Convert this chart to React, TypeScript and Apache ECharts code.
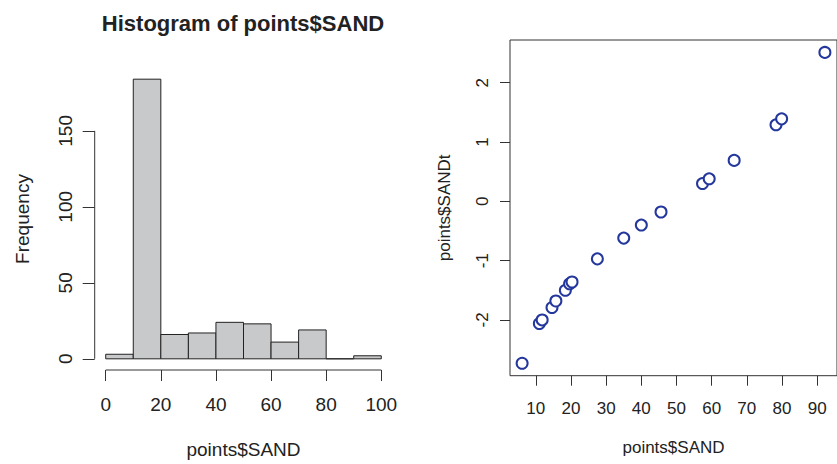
import React, { useEffect, useRef } from "react";
import * as echarts from "echarts";

// Histogram data
const binEdges = [0, 10, 20, 30, 40, 50, 60, 70, 80, 90, 100];
const binCounts = [3, 184, 16, 17, 24, 23, 11, 19, 0, 2];
const histXTicks = [0, 20, 40, 60, 80, 100];
const histYTicks = [0, 50, 100, 150];

// Scatter data
const sandX = [6.1, 11.0, 11.8, 14.6, 15.7, 18.4, 19.6, 20.3, 27.5, 35.0, 40.0, 45.6, 57.4, 59.3, 66.4, 78.3, 79.9, 92.2];
const sandT = [-2.73, -2.06, -2.0, -1.79, -1.68, -1.5, -1.39, -1.36, -0.97, -0.62, -0.4, -0.18, 0.3, 0.38, 0.69, 1.29, 1.39, 2.51];
const scatXTicks = [10, 20, 30, 40, 50, 60, 70, 80, 90];
const scatYTicks = [-2, -1, 0, 1, 2];

const FONT = "Liberation Sans, Arial, Helvetica, sans-serif";
const TXT = "#222";

export default function App() {
  const ref = useRef<HTMLDivElement>(null);
  useEffect(() => {
    if (!ref.current) return;
    const chart = echarts.init(ref.current, null, { renderer: "svg" });

    const histMax = Math.max(...binCounts);
    const hYMin = -0.04 * histMax;
    const hYMax = histMax * 1.04;
    const hXMin = binEdges[0] - 0.04 * (binEdges[binEdges.length - 1] - binEdges[0]);
    const hXMax = binEdges[binEdges.length - 1] + 0.04 * (binEdges[binEdges.length - 1] - binEdges[0]);

    const sxMinD = Math.min(...sandX), sxMaxD = Math.max(...sandX);
    const syMinD = Math.min(...sandT), syMaxD = Math.max(...sandT);
    const sXMin = sxMinD - 0.04 * (sxMaxD - sxMinD);
    const sXMax = sxMaxD + 0.04 * (sxMaxD - sxMinD);
    const sYMin = syMinD - 0.04 * (syMaxD - syMinD);
    const sYMax = syMaxD + 0.04 * (syMaxD - syMinD);

    const histData = binCounts.map((c, i) => [binEdges[i], binEdges[i + 1], c]);

    const tickStyle = { color: "#333", width: 1 };
    const hiddenLine = { show: false, onZero: false };

    chart.setOption({
      animation: false,
      textStyle: { fontFamily: FONT },
      graphic: [
        {
          type: "text",
          x: 243,
          y: 23,
          style: {
            text: "Histogram of points$SAND",
            fontFamily: FONT,
            fontWeight: "bold",
            fontSize: 22,
            fill: TXT,
            align: "center",
            verticalAlign: "middle",
          },
        },
      ],
      grid: [
        { left: 94.7, top: 68, width: 297.6, height: 307.1, show: false },
        {
          left: 510,
          top: 40,
          right: -7.6,
          bottom: 88.3,
          show: true,
          borderColor: "#333",
          borderWidth: 1,
          backgroundColor: "transparent",
        },
      ],
      xAxis: [
        {
          type: "value",
          gridIndex: 0,
          min: hXMin,
          max: hXMax,
          axisLine: hiddenLine,
          splitLine: { show: false },
          axisTick: { show: true, customValues: histXTicks, length: 11, lineStyle: tickStyle },
          axisLabel: { customValues: histXTicks, fontSize: 19, color: TXT, margin: 25, fontFamily: FONT },
          name: "points$SAND",
          nameLocation: "middle",
          nameGap: 70,
          nameTextStyle: { fontSize: 19, color: TXT, fontFamily: FONT },
        },
        {
          type: "value",
          gridIndex: 1,
          min: sXMin,
          max: sXMax,
          axisLine: hiddenLine,
          splitLine: { show: false },
          axisTick: { show: true, customValues: scatXTicks, length: 10, lineStyle: tickStyle },
          axisLabel: { customValues: scatXTicks, fontSize: 17, color: TXT, margin: 24, fontFamily: FONT },
          name: "points$SAND",
          nameLocation: "middle",
          nameGap: 63,
          nameTextStyle: { fontSize: 17, color: TXT, fontFamily: FONT },
        },
      ],
      yAxis: [
        {
          type: "value",
          gridIndex: 0,
          min: hYMin,
          max: hYMax,
          axisLine: hiddenLine,
          splitLine: { show: false },
          axisTick: { show: true, customValues: histYTicks, length: 12, lineStyle: tickStyle },
          axisLabel: { customValues: histYTicks, fontSize: 19, color: TXT, margin: 20, rotate: 90, fontFamily: FONT },
          name: "Frequency",
          nameLocation: "middle",
          nameGap: 63,
          nameTextStyle: { fontSize: 19, color: TXT, fontFamily: FONT },
        },
        {
          type: "value",
          gridIndex: 1,
          min: sYMin,
          max: sYMax,
          axisLine: hiddenLine,
          splitLine: { show: false },
          axisTick: { show: true, customValues: scatYTicks, length: 10, lineStyle: tickStyle },
          axisLabel: { customValues: scatYTicks, fontSize: 17, color: TXT, margin: 19, rotate: 90, fontFamily: FONT },
          name: "points$SANDt",
          nameLocation: "middle",
          nameGap: 57,
          nameTextStyle: { fontSize: 17, color: TXT, fontFamily: FONT },
        },
      ],
      series: [
        {
          type: "custom",
          xAxisIndex: 0,
          yAxisIndex: 0,
          data: histData,
          clip: false,
          renderItem: (params: any, api: any) => {
            const x0 = api.value(0);
            const x1 = api.value(1);
            const c = api.value(2);
            const p0 = api.coord([x0, c]);
            const p1 = api.coord([x1, 0]);
            return {
              type: "rect",
              shape: { x: p0[0], y: p0[1], width: p1[0] - p0[0], height: p1[1] - p0[1] },
              style: { fill: "#c8c9cb", stroke: "#222", lineWidth: 1 },
            };
          },
        },
        {
          type: "line",
          xAxisIndex: 0,
          yAxisIndex: 0,
          data: [
            [hXMin, histYTicks[0]],
            [hXMin, histYTicks[histYTicks.length - 1]],
          ],
          symbol: "none",
          clip: false,
          lineStyle: { color: "#333", width: 1 },
          silent: true,
        },
        {
          type: "line",
          xAxisIndex: 0,
          yAxisIndex: 0,
          data: [
            [histXTicks[0], hYMin],
            [histXTicks[histXTicks.length - 1], hYMin],
          ],
          symbol: "none",
          clip: false,
          lineStyle: { color: "#333", width: 1 },
          silent: true,
        },
        {
          type: "scatter",
          xAxisIndex: 1,
          yAxisIndex: 1,
          data: sandX.map((x, i) => [x, sandT[i]]),
          symbol: "emptyCircle",
          symbolSize: 11,
          itemStyle: { color: "#24379c", borderColor: "#24379c", borderWidth: 1.6, opacity: 1 },
        },
      ],
    });
    return () => chart.dispose();
  }, []);
  return (
    <div
      ref={ref}
      style={{ position: "absolute", left: 0, top: 0, width: 837, height: 464, background: "#fff" }}
    />
  );
}
